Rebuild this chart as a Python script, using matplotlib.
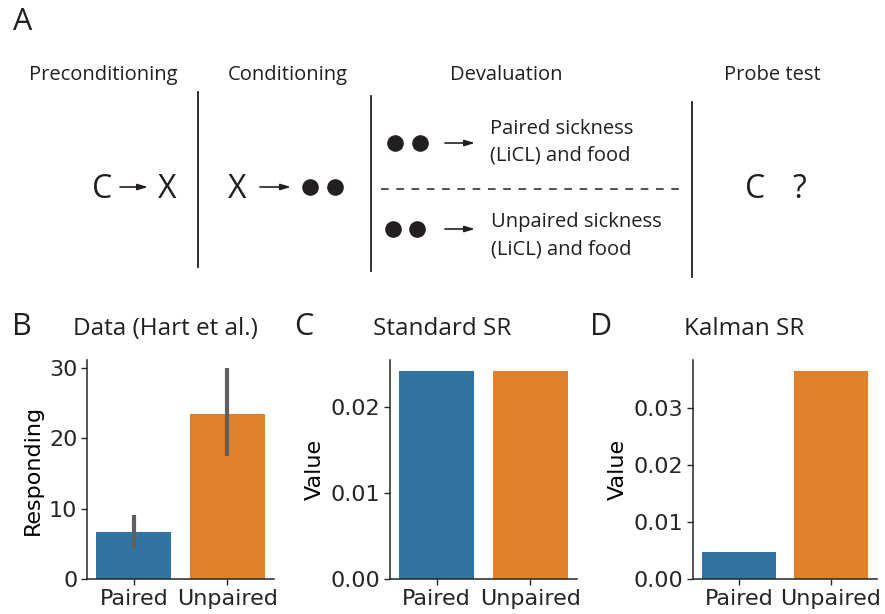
import numpy as np
import matplotlib
matplotlib.use("Agg")
from matplotlib import pyplot as plt

# dados
grupos = ["Paired", "Unpaired"]
cores = ["#3274a1", "#e1812c"]

hart_media = [6.73, 23.46]
hart_baixo = [4.2, 17.4]
hart_alto = [9.1, 30.0]

sr_padrao = [0.02416, 0.02416]
sr_kalman = [0.00467, 0.03654]

W, H = 885, 614
fig = plt.figure(figsize=(W / 100, H / 100), dpi=100)

fonte_diag = "Open Sans"

# =====================
# painel A (diagrama), em pixels
# =====================
axA = fig.add_axes([0, 0, 1, 1])
axA.set_xlim(0, W)
axA.set_ylim(H, 0)
axA.axis("off")

def texto(x, y, s, size=14.5, ha="center", va="center"):
    axA.text(x, y, s, fontsize=size, ha=ha, va=va, family=fonte_diag, color="#231f20")

def seta(x0, x1, y):
    axA.annotate("", xy=(x1, y), xytext=(x0, y),
                 arrowprops=dict(arrowstyle="-|>,head_length=0.6,head_width=0.18",
                                 color="#231f20", lw=1.2, shrinkA=0, shrinkB=0))

def pontos(xs, y):
    axA.scatter(xs, [y] * len(xs), s=120, color="#231f20", zorder=3)

texto(23, 22, "A", size=22)
texto(103, 75, "Preconditioning")
texto(288, 75, "Conditioning")
texto(506, 75, "Devaluation")
texto(772, 75, "Probe test")

for x, y0, y1 in [(198, 92, 267), (371, 96, 271), (692, 102, 277)]:
    axA.plot([x, x], [y0, y1], color="#231f20", lw=1.3)

# C -> X
texto(102, 189, "C", size=23)
seta(120, 148, 187)
texto(167, 189, "X", size=23)

# X -> ..
texto(237, 189, "X", size=23)
seta(260, 291, 187)
pontos([310, 335], 187)

# devaluation
pontos([395, 420], 143)
seta(445, 475, 143)
texto(490, 129, "Paired sickness", ha="left")
texto(490, 156, "(LiCL) and food", ha="left")
axA.plot([381, 682], [189, 189], color="#231f20", lw=1.1, ls=(0, (5, 5)))
pontos([393, 417], 229)
seta(445, 475, 229)
texto(491, 222, "Unpaired sickness", ha="left")
texto(491, 249, "(LiCL) and food", ha="left")

# probe
texto(755, 189, "C", size=23)
texto(799, 189, "?", size=23)

# =====================
# paineis B, C, D
# =====================
def painel(esq, larg, valores, ymax, ylabel, yticks, fmt, erros=None):
    ax = fig.add_axes([esq / W, (H - 579) / H, larg / W, (579 - 360) / H])
    x = np.arange(len(grupos))
    ax.bar(x, valores, width=0.8, color=cores)
    if erros is not None:
        for xi, lo, hi in zip(x, erros[0], erros[1]):
            ax.plot([xi, xi], [lo, hi], color="#5f5f5f", lw=3, solid_capstyle="butt")
    ax.set_xlim(-0.5, 1.5)
    ax.set_ylim(0, ymax)
    ax.set_xticks(x)
    ax.set_xticklabels(grupos, fontsize=16)
    ax.set_yticks(yticks)
    ax.set_yticklabels([fmt.format(v) for v in yticks], fontsize=16)
    ax.set_ylabel(ylabel, fontsize=16, labelpad=4)
    for lado in ["top", "right"]:
        ax.spines[lado].set_visible(False)
    for lado in ["left", "bottom"]:
        ax.spines[lado].set_color("#262626")
        ax.spines[lado].set_linewidth(1.1)
    ax.tick_params(axis="both", length=4, width=1, color="#262626", labelcolor="#262626", pad=3)
    return ax

painel(87, 187, hart_media, 31.1, "Responding", [0, 10, 20, 30], "{:.0f}",
       erros=(hart_baixo, hart_alto))
painel(390, 187, sr_padrao, 0.0254, "Value", [0, 0.01, 0.02], "{:.2f}")
painel(693, 184, sr_kalman, 0.0384, "Value", [0, 0.01, 0.02, 0.03], "{:.2f}")

# titulos e letras
for x, letra, tx, titulo in [(22, "B", 165, "Data (Hart et al.)"),
                             (304, "C", 442, "Standard SR"),
                             (601, "D", 744, "Kalman SR")]:
    fig.text(x / W, 1 - 327 / H, letra, fontsize=22, ha="center", va="center",
             family=fonte_diag, color="#231f20")
    fig.text(tx / W, 1 - 329 / H, titulo, fontsize=17.5, ha="center", va="center",
             family=fonte_diag, color="#231f20")

fig.savefig("out.png", dpi=100)
